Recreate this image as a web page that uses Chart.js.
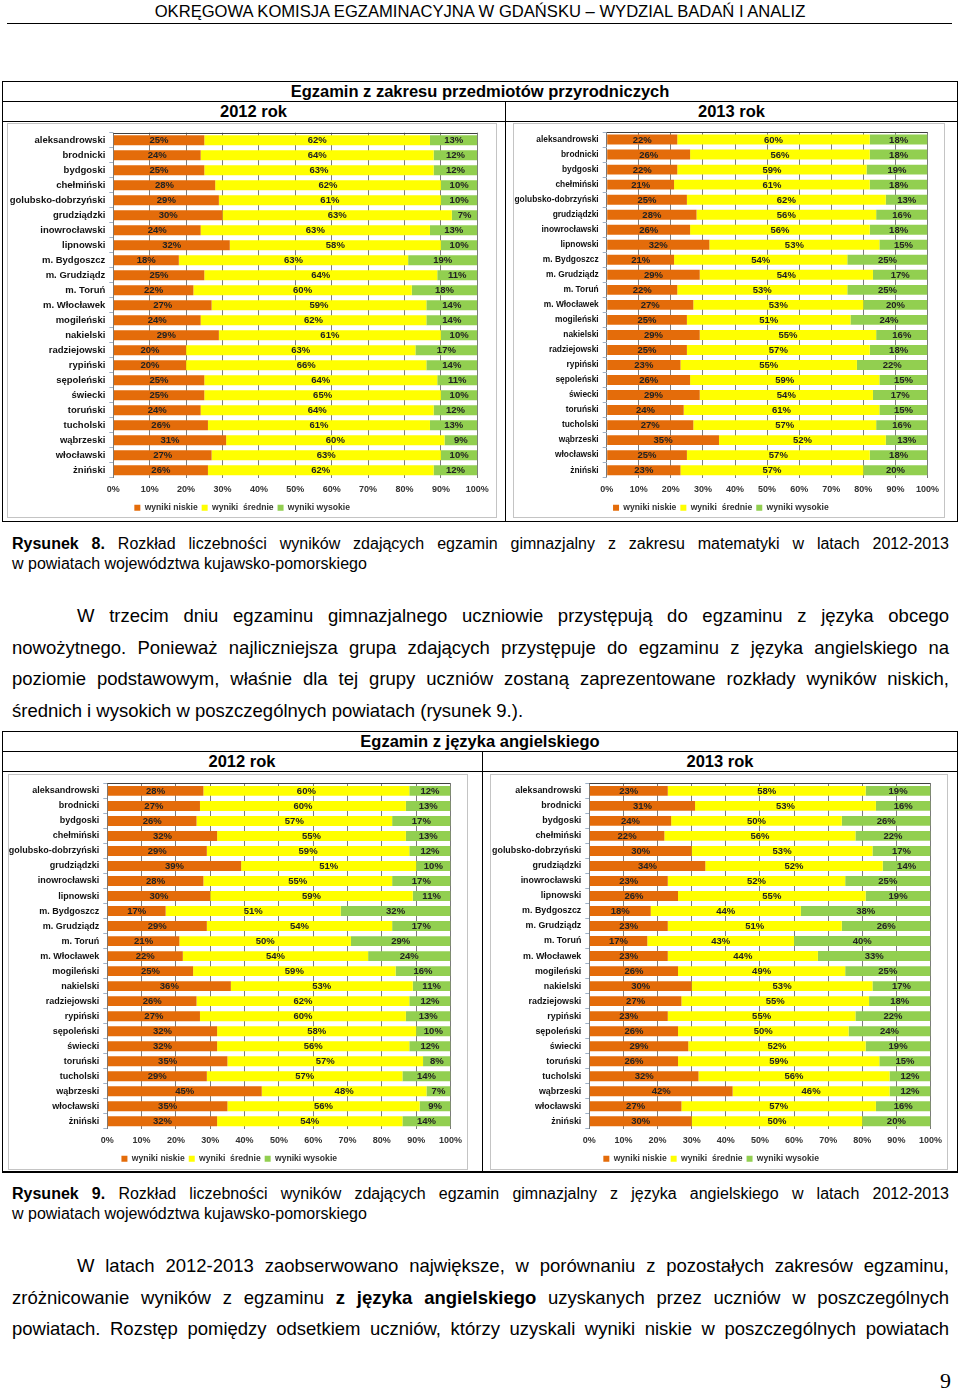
<!DOCTYPE html>
<html><head><meta charset="utf-8">
<script src="https://cdn.jsdelivr.net/npm/chart.js@4.4.0/dist/chart.umd.min.js"></script>
<style>
body{margin:0;background:#fff;}
#page{position:relative;width:960px;height:1391px;overflow:hidden;background:#fff;font-family:"Liberation Sans",Arial,Helvetica,sans-serif;color:#000;}
.hl{position:absolute;height:0;border-top:1px solid #000;}
.vl{position:absolute;width:0;border-left:1px solid #000;}
.ttl{position:absolute;font-weight:bold;font-size:16.5px;line-height:18px;text-align:center;white-space:nowrap;}
.frame{position:absolute;border:1px solid #c4c4c4;box-sizing:border-box;background:#fff;}
.line{position:absolute;left:12px;width:937px;}
.j{text-align:justify;text-align-last:justify;}
.cap{font-size:16px;line-height:18px;}
.par{font-size:18.5px;line-height:20px;}
canvas{position:absolute;}
</style></head>
<body>
<div id="page">
  <div class="ttl" style="left:0;width:960px;top:3px;font-weight:normal;font-size:16.6px;">OKRĘGOWA KOMISJA EGZAMINACYJNA W GDAŃSKU – WYDZIAL BADAŃ I ANALIZ</div>
  <div class="hl" style="left:7px;width:945px;top:23px;"></div>

  <!-- table 1 -->
  <div class="frame" style="left:7px;top:123px;width:490px;height:395px;"></div>
  <div class="frame" style="left:513px;top:123px;width:432px;height:395px;"></div>
  <div class="hl" style="left:2px;width:956px;top:81px;"></div>
  <div class="hl" style="left:2px;width:956px;top:101px;"></div>
  <div class="hl" style="left:2px;width:956px;top:121px;"></div>
  <div class="hl" style="left:2px;width:956px;top:521px;"></div>
  <div class="vl" style="left:2px;top:81px;height:440px;"></div>
  <div class="vl" style="left:957px;top:81px;height:440px;"></div>
  <div class="vl" style="left:505px;top:101px;height:420px;"></div>
  <div class="ttl" style="left:2px;width:956px;top:82px;">Egzamin z zakresu przedmiotów przyrodniczych</div>
  <div class="ttl" style="left:2px;width:503px;top:102px;">2012 rok</div>
  <div class="ttl" style="left:505px;width:453px;top:102px;">2013 rok</div>

  <div class="line j cap" style="top:535px;"><b>Rysunek 8.</b> Rozkład liczebności wyników zdających egzamin gimnazjalny z zakresu matematyki w latach 2012-2013</div>
  <div class="line cap" style="top:555px;">w powiatach województwa kujawsko-pomorskiego</div>

  <div class="line j par" style="top:606px;left:77px;width:872px;">W trzecim dniu egzaminu gimnazjalnego uczniowie przystępują do egzaminu z języka obcego</div>
  <div class="line j par" style="top:637.5px;">nowożytnego. Ponieważ najliczniejsza grupa zdających przystępuje do egzaminu z języka angielskiego na</div>
  <div class="line j par" style="top:669px;">poziomie podstawowym, właśnie dla tej grupy uczniów zostaną zaprezentowane rozkłady wyników niskich,</div>
  <div class="line par" style="top:700.5px;">średnich i wysokich w poszczególnych powiatach (rysunek 9.).</div>

  <!-- table 2 -->
  <div class="frame" style="left:8px;top:774px;width:460px;height:396px;"></div>
  <div class="frame" style="left:490px;top:774px;width:458px;height:396px;"></div>
  <div class="hl" style="left:2px;width:956px;top:731px;"></div>
  <div class="hl" style="left:2px;width:956px;top:751px;"></div>
  <div class="hl" style="left:2px;width:956px;top:771px;"></div>
  <div class="hl" style="left:2px;width:956px;top:1171px;border-top-width:2px;"></div>
  <div class="vl" style="left:2px;top:731px;height:441px;"></div>
  <div class="vl" style="left:957px;top:731px;height:441px;"></div>
  <div class="vl" style="left:482px;top:751px;height:421px;"></div>
  <div class="ttl" style="left:2px;width:956px;top:732px;">Egzamin z języka angielskiego</div>
  <div class="ttl" style="left:2px;width:480px;top:752px;">2012 rok</div>
  <div class="ttl" style="left:482px;width:476px;top:752px;">2013 rok</div>

  <div class="line j cap" style="top:1185px;"><b>Rysunek 9.</b> Rozkład liczebności wyników zdających egzamin gimnazjalny z języka angielskiego w latach 2012-2013</div>
  <div class="line cap" style="top:1205px;">w powiatach województwa kujawsko-pomorskiego</div>

  <div class="line j par" style="top:1256px;left:77px;width:872px;">W latach 2012-2013 zaobserwowano największe, w porównaniu z pozostałych zakresów egzaminu,</div>
  <div class="line j par" style="top:1287.5px;">zróżnicowanie wyników z egzaminu <b>z języka angielskiego</b> uzyskanych przez uczniów w poszczególnych</div>
  <div class="line j par" style="top:1319px;">powiatach. Rozstęp pomiędzy odsetkiem uczniów, którzy uzyskali wyniki niskie w poszczególnych powiatach</div>

  <div style="position:absolute;left:900px;width:51px;top:1369px;text-align:right;font-family:'Liberation Serif','Times New Roman',serif;font-size:22px;line-height:24px;">9</div>

  <canvas id="c1"></canvas>
  <canvas id="c2"></canvas>
  <canvas id="c3"></canvas>
  <canvas id="c4"></canvas>
</div>
<script>
// ---------- data ----------
const categories = ['aleksandrowski','brodnicki','bydgoski','chełmiński','golubsko-dobrzyński','grudziądzki','inowrocławski','lipnowski','m. Bydgoszcz','m. Grudziądz','m. Toruń','m. Włocławek','mogileński','nakielski','radziejowski','rypiński','sępoleński','świecki','toruński','tucholski','wąbrzeski','włocławski','żniński'];
const seriesNames = ['wyniki niskie','wyniki  średnie','wyniki wysokie'];

// Egzamin z zakresu przedmiotów przyrodniczych – 2012
const sci2012Low  = [25,24,25,28,29,30,24,32,18,25,22,27,24,29,20,20,25,25,24,26,31,27,26];
const sci2012Mid  = [62,64,63,62,61,63,63,58,63,64,60,59,62,61,63,66,64,65,64,61,60,63,62];
const sci2012High = [13,12,12,10,10,7,13,10,19,11,18,14,14,10,17,14,11,10,12,13,9,10,12];
// 2013
const sci2013Low  = [22,26,22,21,25,28,26,32,21,29,22,27,25,29,25,23,26,29,24,27,35,25,23];
const sci2013Mid  = [60,56,59,61,62,56,56,53,54,54,53,53,51,55,57,55,59,54,61,57,52,57,57];
const sci2013High = [18,18,19,18,13,16,18,15,25,17,25,20,24,16,18,22,15,17,15,16,13,18,20];
// Egzamin z języka angielskiego – 2012
const eng2012Low  = [28,27,26,32,29,39,28,30,17,29,21,22,25,36,26,27,32,32,35,29,45,35,32];
const eng2012Mid  = [60,60,57,55,59,51,55,59,51,54,50,54,59,53,62,60,58,56,57,57,48,56,54];
const eng2012High = [12,13,17,13,12,10,17,11,32,17,29,24,16,11,12,13,10,12,8,14,7,9,14];
// 2013
const eng2013Low  = [23,31,24,22,30,34,23,26,18,23,17,23,26,30,27,23,26,29,26,32,42,27,30];
const eng2013Mid  = [58,53,50,56,53,52,52,55,44,51,43,44,49,53,55,55,50,52,59,56,46,57,50];
const eng2013High = [19,16,26,22,17,14,25,19,38,26,40,33,25,17,18,22,24,19,15,12,12,16,20];

const axisMin = 0, axisMax = 100, axisStep = 10;

// ---------- styles ----------
const FAMILY = '"Liberation Sans", Arial, Helvetica, sans-serif';
Chart.defaults.font.family = FAMILY;
const seriesColors = ['#E46C0A','#FFFF00','#92CF50'];

const barLabels = {
  id:'barLabels',
  afterDatasetsDraw(chart){
    const ctx = chart.ctx;
    ctx.save();
    ctx.font = 'bold 9.5px ' + FAMILY;
    ctx.fillStyle = '#222';
    ctx.textAlign = 'center';
    ctx.textBaseline = 'middle';
    chart.data.datasets.forEach((ds,i)=>{
      chart.getDatasetMeta(i).data.forEach((el,j)=>{
        ctx.fillText(ds.data[j] + '%', (el.x + el.base)/2, el.y + 0.5);
      });
    });
    ctx.restore();
  }
};
const topLine = {
  id:'topLine',
  beforeDatasetsDraw(chart){
    const {ctx, chartArea:a} = chart;
    ctx.save();
    ctx.strokeStyle = '#404040';
    ctx.lineWidth = 1;
    ctx.beginPath();
    ctx.moveTo(a.left, Math.round(a.top)+0.5);
    ctx.lineTo(a.right, Math.round(a.top)+0.5);
    ctx.stroke();
    ctx.restore();
  }
};

function makeChart(id, box, area, low, mid, high, labelSize){
  const cv = document.getElementById(id);
  const W = box.w;
  const aTop = area.top - box.y, aBottom = area.bottom - box.y;
  const aLeft = area.left - box.x, aRight = area.right - box.x;
  const H = Math.round(aBottom + 30.6 + 14);
  cv.width = W; cv.height = H;
  cv.style.left = box.x + 'px'; cv.style.top = box.y + 'px';
  cv.style.width = W + 'px'; cv.style.height = H + 'px';
  new Chart(cv, {
    type:'bar',
    data:{
      labels: categories,
      datasets: [low, mid, high].map((d,i)=>({
        label: seriesNames[i], data: d, backgroundColor: seriesColors[i],
        borderWidth: 0, barPercentage: 0.66, categoryPercentage: 1
      }))
    },
    options:{
      indexAxis:'y', responsive:false, animation:false, devicePixelRatio:1,
      layout:{padding:{left:0, top:aTop, right:W - aRight, bottom:0}},
      scales:{
        x:{
          stacked:true, min:axisMin, max:axisMax,
          ticks:{stepSize:axisStep, callback:v=>v+'%', padding:6, color:'#333', font:{size:9, weight:'bold'}, maxRotation:0, autoSkip:false},
          grid:{color:'#7a7a7a', drawTicks:false},
          border:{display:false},
          afterFit:s=>{ s.height = H - aBottom - s.chart.legend.height; }
        },
        y:{
          stacked:true,
          ticks:{padding:4, color:'#111', font:{size:labelSize, weight:'bold'}, autoSkip:false},
          grid:{drawOnChartArea:false, tickLength:4, color:'#9db1c9'},
          border:{display:false},
          afterFit:s=>{ s.width = aLeft; }
        }
      },
      plugins:{
        legend:{position:'bottom', labels:{boxWidth:6, boxHeight:6, padding:4, color:'#333', font:{size:8.6, weight:'bold'}}},
        tooltip:{enabled:false}
      }
    },
    plugins:[topLine, barLabels]
  });
}

makeChart('c1', {x:7, y:123, w:490}, {left:113.3, right:477.3, top:128.5, bottom:477.7}, sci2012Low, sci2012Mid, sci2012High, 9.5);
makeChart('c2', {x:513, y:123, w:432}, {left:606.7, right:928.7, top:128.5, bottom:477.7}, sci2013Low, sci2013Mid, sci2013High, 8.4);
makeChart('c3', {x:8, y:774, w:460}, {left:107.3, right:450.5, top:778.5, bottom:1128.8}, eng2012Low, eng2012Mid, eng2012High, 9);
makeChart('c4', {x:490, y:774, w:458}, {left:589.3, right:932.3, top:778.5, bottom:1128.8}, eng2013Low, eng2013Mid, eng2013High, 8.9);
</script>
</body></html>
